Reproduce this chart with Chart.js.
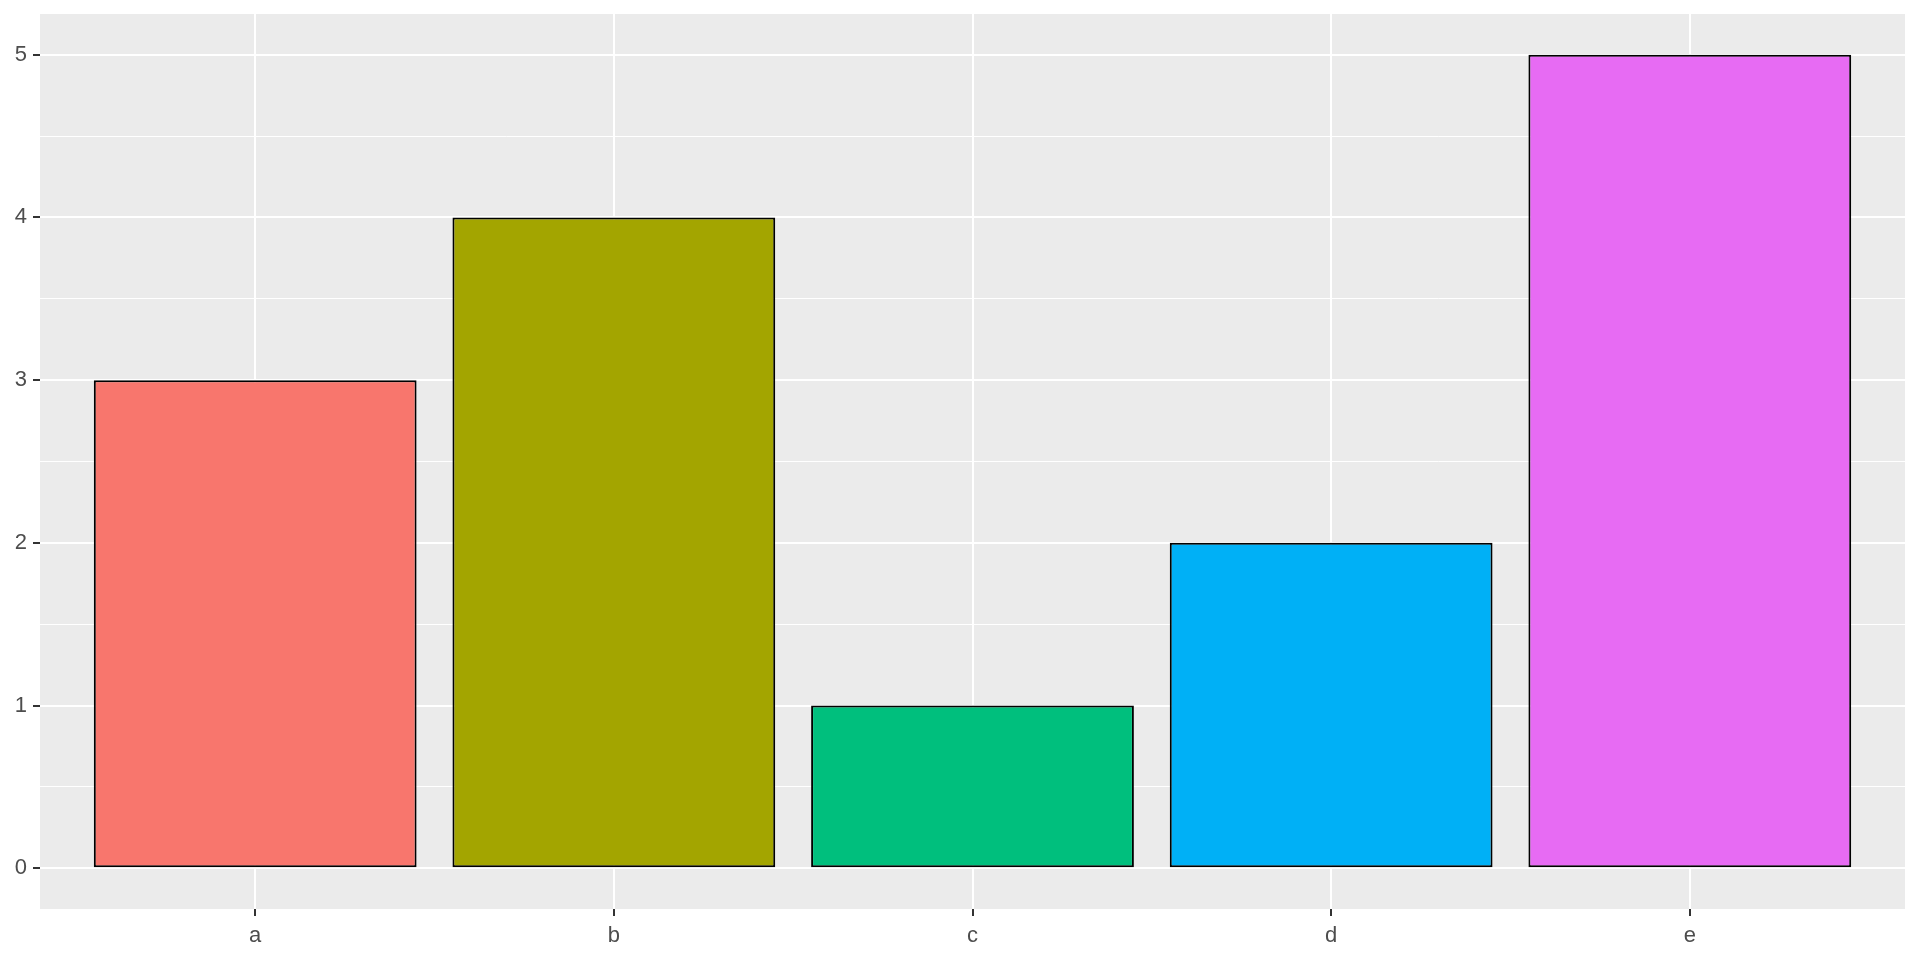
<!DOCTYPE html>
<html>
<head>
<meta charset="utf-8">
<script src="https://cdn.jsdelivr.net/npm/chart.js@4"></script>
<style>
  html, body { margin: 0; padding: 0; background: #fff; }
  #wrap { width: 1920px; height: 960px; }
</style>
</head>
<body>
<div id="wrap"><canvas id="c"></canvas></div>
<script>
const categories = ["a", "b", "c", "d", "e"];
const values = [3, 4, 1, 2, 5];
const fills = ["#F8766D", "#A3A500", "#00BF7D", "#00B0F6", "#E76BF3"];
const yTicks = [0, 0.5, 1, 1.5, 2, 2.5, 3, 3.5, 4, 4.5, 5];

// grey panel behind the grid, ggplot style
const panelBg = {
  id: "panelBg",
  beforeDraw(chart) {
    const { ctx, chartArea: a } = chart;
    ctx.save();
    ctx.fillStyle = "#EBEBEB";
    ctx.fillRect(a.left, a.top, a.right - a.left, a.bottom - a.top);
    ctx.restore();
  },
};

const isMajor = (v) => Number.isInteger(v);

new Chart(document.getElementById("c"), {
  type: "bar",
  data: {
    datasets: [
      {
        data: categories.map((c, i) => ({ x: i + 1, y: values[i] })),
        backgroundColor: fills,
        borderColor: "#000",
        borderWidth: 2,
        borderSkipped: false,
        barPercentage: 0.9,
        categoryPercentage: 1,
      },
    ],
  },
  options: {
    responsive: true,
    maintainAspectRatio: false,
    animation: false,
    layout: { padding: { left: 0, top: 14, right: 15, bottom: 0 } },
    plugins: { legend: { display: false }, tooltip: { enabled: false } },
    scales: {
      x: {
        type: "linear",
        min: 0.4,
        max: 5.6,
        offset: false,
        afterBuildTicks: (s) => { s.ticks = categories.map((c, i) => ({ value: i + 1 })); },
        afterFit: (s) => { s.height = 51; s.paddingLeft = 0; s.paddingRight = 0; },
        border: { display: false },
        grid: { offset: false, color: "#FFFFFF", lineWidth: 2, tickColor: "#333333", tickLength: 7, tickWidth: 2 },
        ticks: {
          color: "#4D4D4D",
          font: { family: "'Liberation Sans', Arial, sans-serif", size: 22 },
          padding: 7,
          callback: (v) => categories[v - 1],
        },
      },
      y: {
        min: -0.25,
        max: 5.25,
        afterBuildTicks: (s) => { s.ticks = yTicks.map((v) => ({ value: v })); },
        afterFit: (s) => { s.width = 40; s.paddingTop = 0; s.paddingBottom = 0; },
        border: { display: false },
        grid: {
          color: "#FFFFFF",
          lineWidth: (c) => (isMajor(c.tick.value) ? 2 : 1),
          tickColor: (c) => (isMajor(c.tick.value) ? "#333333" : "rgba(0,0,0,0)"),
          tickLength: 7,
          tickWidth: 2,
        },
        ticks: {
          color: "#4D4D4D",
          font: { family: "'Liberation Sans', Arial, sans-serif", size: 22 },
          padding: 6,
          autoSkip: false,
          callback: (v) => (isMajor(v) ? String(v) : ""),
        },
      },
    },
  },
  plugins: [panelBg],
});
</script>
</body>
</html>
